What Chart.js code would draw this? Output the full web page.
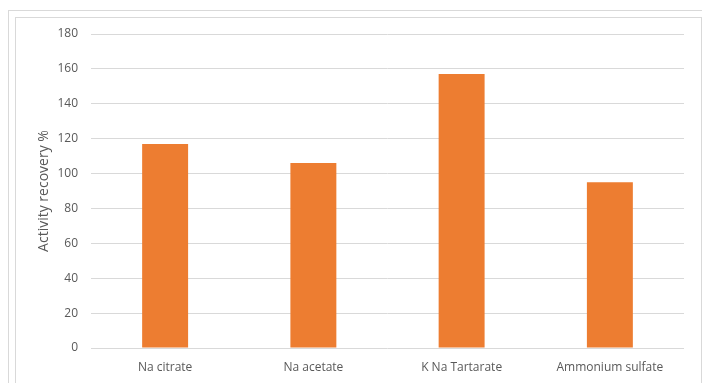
<!DOCTYPE html>
<html>
<head>
<meta charset="utf-8">
<script src="https://cdn.jsdelivr.net/npm/chart.js@4/dist/chart.umd.min.js"></script>
<style>
  html, body { margin: 0; padding: 0; background: #fff; width: 702px; height: 383px; overflow: hidden; }
  .frame-outer { position: absolute; left: 8px; top: 10px; right: 0; bottom: -5px; border-left: 1px solid #d9d9d9; border-top: 1px solid #d9d9d9; }
  .frame-inner { position: absolute; left: 15px; top: 17px; width: 685px; bottom: -5px; border: 1px solid #d9d9d9; }
  #chart { position: absolute; left: 0; top: 0; }
</style>
</head>
<body>
<div class="frame-outer"></div>
<div class="frame-inner"></div>
<canvas id="chart" width="702" height="383"></canvas>
<script>
// Salt used for precipitation and the enzyme activity recovered (%)
const salts = ['Na citrate', 'Na acetate', 'K Na Tartarate', 'Ammonium sulfate'];
const recovery = [117, 106, 157, 95];
const yTicks = [0, 20, 40, 60, 80, 100, 120, 140, 160, 180];

const textColor = '#595959';
const gridColor = '#d9d9d9';

new Chart(document.getElementById('chart'), {
  type: 'bar',
  data: {
    labels: salts,
    datasets: [{
      label: 'Activity recovery %',
      data: recovery,
      backgroundColor: '#ED7D31',
      borderWidth: 0,
      categoryPercentage: 1,
      barPercentage: 0.31
    }]
  },
  options: {
    responsive: false,
    animation: false,
    devicePixelRatio: 1,
    layout: { padding: { top: 34, right: 18, left: 0, bottom: 0 } },
    plugins: { legend: { display: false }, tooltip: { enabled: false } },
    scales: {
      x: {
        grid: { display: false, drawTicks: false },
        border: { display: false },
        ticks: { color: textColor, font: { family: 'Open Sans', size: 12 }, padding: 12, maxRotation: 0 },
        afterFit: (s) => { s.height = 35; }
      },
      y: {
        min: 0,
        max: 180,
        afterBuildTicks: (s) => { s.ticks = yTicks.map(v => ({ value: v })); },
        grid: { color: gridColor, lineWidth: 1, drawTicks: false },
        border: { display: false },
        ticks: { color: textColor, font: { family: 'Open Sans', size: 12 }, padding: 13 },
        title: {
          display: true,
          text: 'Activity recovery %',
          color: textColor,
          font: { family: 'Open Sans', size: 14 },
          padding: { top: 36, bottom: 0 }
        },
        afterFit: (s) => { s.width = 91; }
      }
    }
  }
});
</script>
</body>
</html>
